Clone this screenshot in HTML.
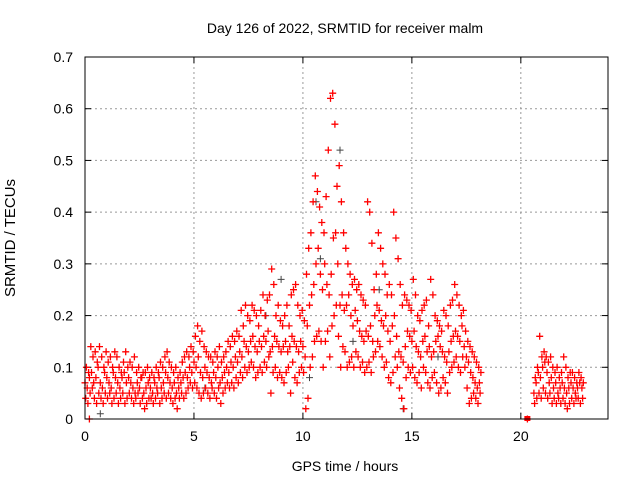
<!DOCTYPE html>
<html><head><meta charset="utf-8"><style>
body{margin:0;background:#fff}
svg{display:block;font-family:"Liberation Sans",sans-serif}
</style></head><body>
<svg id="chart" width="640" height="480">
<text x="345" y="33" text-anchor="middle" font-size="14">Day 126 of 2022, SRMTID for receiver malm</text>
<text x="345" y="471" text-anchor="middle" font-size="14">GPS time / hours</text>
<text x="0" y="0" transform="translate(15,238) rotate(-90)" text-anchor="middle" font-size="15">SRMTID / TECUs</text>
<g id="grid"></g>
<g id="ticks"></g>
<g id="marks"></g>
<rect x="85" y="57" width="523" height="362" fill="none" stroke="#000" stroke-width="1"/>
</svg>
<script>
const xTicks=[0,5,10,15,20];
const yTicks=[0,0.1,0.2,0.3,0.4,0.5,0.6,0.7];
const yTickLabels=["0","0.1","0.2","0.3","0.4","0.5","0.6","0.7"];
const dayStart=0, dayStep=0.1;
const dayMid=[.07,.06,.08,.09,.07,.08,.10,.07,.06,.09,.08,.07,.06,.09,.08,.07,.06,.08,.09,.07,.08,.07,.06,.05,.07,.06,.08,.05,.06,.07,.06,.05,.07,.06,.08,.06,.07,.09,.08,.07,.06,.07,.05,.06,.07,.08,.09,.08,.10,.09,.11,.10,.12,.09,.08,.10,.09,.08,.07,.09,.08,.10,.07,.08,.09,.10,.09,.11,.10,.12,.11,.13,.12,.15,.14,.13,.15,.16,.14,.13,.15,.14,.16,.15,.17,.13,.14,.16,.15,.14,.13,.14,.15,.13,.14,.16,.15,.14,.13,.15,.14,.12,.18,.22,.24,.26,.30,.33,.28,.25,.30,.26,.24,.28,.35,.36,.30,.22,.24,.21,.22,.24,.20,.18,.21,.19,.17,.16,.15,.17,.16,.18,.15,.20,.22,.21,.19,.18,.20,.17,.15,.18,.20,.16,.13,.12,.11,.14,.17,.16,.15,.17,.14,.13,.12,.15,.16,.13,.14,.12,.13,.15,.16,.14,.13,.12,.11,.13,.15,.16,.17,.16,.15,.18,.14,.12,.11,.09,.08,.07,.06,.07];
const dayLow=[.04,.03,.05,.06,.04,.03,.05,.04,.03,.05,.04,.05,.03,.04,.05,.03,.04,.05,.03,.04,.05,.04,.03,.04,.05,.03,.04,.02,.03,.04,.04,.03,.04,.05,.03,.04,.05,.04,.05,.04,.03,.04,.02,.04,.05,.04,.05,.06,.07,.06,.07,.06,.05,.04,.05,.06,.05,.04,.06,.05,.04,.06,.03,.05,.06,.07,.06,.07,.06,.08,.07,.09,.08,.10,.09,.10,.11,.10,.08,.09,.10,.09,.11,.10,.12,.05,.09,.10,.08,.09,.08,.07,.09,.10,.05,.11,.08,.07,.09,.10,.09,.02,.04,.10,.12,.15,.16,.17,.15,.10,.15,.17,.12,.18,.20,.22,.16,.10,.14,.13,.10,.11,.12,.10,.13,.12,.10,.11,.09,.10,.11,.09,.12,.13,.15,.14,.12,.10,.11,.08,.07,.09,.12,.10,.06,.04,.02,.08,.10,.09,.10,.08,.07,.09,.06,.10,.09,.07,.06,.08,.09,.07,.05,.06,.08,.07,.05,.09,.10,.11,.12,.10,.09,.12,.10,.06,.03,.04,.05,.04,.03,.05];
const dayHigh=[.10,.09,.14,.12,.13,.11,.14,.12,.10,.13,.11,.12,.10,.13,.12,.10,.09,.11,.13,.10,.11,.10,.12,.09,.10,.08,.09,.09,.10,.08,.09,.08,.10,.09,.11,.10,.12,.13,.11,.10,.09,.10,.08,.09,.11,.12,.13,.12,.14,.13,.16,.18,.15,.17,.14,.13,.12,.12,.11,.13,.12,.14,.11,.12,.13,.15,.14,.16,.15,.17,.16,.21,.18,.22,.20,.19,.22,.21,.20,.18,.21,.24,.20,.23,.24,.29,.26,.20,.22,.19,.18,.20,.22,.18,.24,.25,.26,.22,.20,.21,.19,.28,.33,.36,.42,.47,.44,.41,.38,.36,.43,.52,.62,.63,.57,.45,.49,.42,.36,.33,.30,.28,.26,.27,.25,.26,.24,.23,.22,.42,.40,.34,.25,.28,.36,.33,.30,.28,.24,.26,.24,.40,.35,.31,.26,.22,.24,.23,.22,.21,.27,.24,.20,.19,.21,.22,.23,.18,.27,.24,.20,.19,.18,.17,.21,.20,.18,.22,.23,.26,.24,.22,.20,.21,.17,.15,.14,.13,.12,.11,.10,.09];
const lateStart=20.6;
const lateMid=[.05,.07,.09,.08,.10,.11,.09,.07,.08,.06,.07,.05,.06,.07,.06,.05,.06,.07,.06,.05,.06,.07,.06];
const lateLow=[.03,.04,.05,.04,.06,.05,.04,.05,.03,.04,.03,.04,.03,.04,.03,.02,.03,.04,.03,.04,.04,.03,.04];
const lateHigh=[.08,.10,.16,.12,.13,.12,.11,.12,.10,.09,.10,.08,.09,.12,.10,.08,.09,.09,.08,.07,.09,.08,.07];
const grayTimes=[10.6,10.8,9.0,11.7,5.5,0.7,14.6,13.5,8.3,12.3,16.2,10.3];
const grayValues=[0.42,0.31,0.27,0.52,0.06,0.01,0.02,0.25,0.20,0.15,0.12,0.08];
const zeroTimes=[0.2,20.3];
const zeroValues=[0,0];

const X0=85,X1=608,Y0=419,Y1=57;
const sx=t=>X0+t/24*(X1-X0);
const sy=v=>Y0-v/0.7*(Y0-Y1);
const NS="http://www.w3.org/2000/svg";
const grid=document.getElementById('grid'),ticks=document.getElementById('ticks'),marks=document.getElementById('marks');
function mk(tag,attrs,parent){const e=document.createElementNS(NS,tag);for(const k in attrs)e.setAttribute(k,attrs[k]);parent.appendChild(e);return e;}
xTicks.forEach(t=>{
  const x=sx(t);
  if(t>0){const g=mk('line',{x1:x,x2:x,y1:Y1,y2:Y0,stroke:'#999','stroke-dasharray':'2,3','stroke-width':1},grid);
  
  }
  const l=mk('text',{x:x,y:Y0+22,'text-anchor':'middle','font-size':14},ticks);l.textContent=t;
  
  
  mk('line',{x1:x,x2:x,y1:Y0,y2:Y0-6,stroke:'#000'},ticks);
  mk('line',{x1:x,x2:x,y1:Y1,y2:Y1+6,stroke:'#000'},ticks);
});
yTicks.forEach((v,i)=>{
  const y=sy(v);
  if(v>0&&v<0.7){const g=mk('line',{x1:X0,x2:X1,y1:y,y2:y,stroke:'#999','stroke-dasharray':'2,3','stroke-width':1},grid);
  
  }
  const l=mk('text',{x:X0-12,y:y+5,'text-anchor':'end','font-size':14},ticks);l.textContent=yTickLabels[i];
  
  
  mk('line',{x1:X0,x2:X0+6,y1:y,y2:y,stroke:'#000'},ticks);
  mk('line',{x1:X1,x2:X1-6,y1:y,y2:y,stroke:'#000'},ticks);
});
let d='';
function plus(t,v){const x=sx(t),y=sy(v);d+=`M${(x-3.5).toFixed(1)} ${y.toFixed(1)}h7M${x.toFixed(1)} ${(y-3.5).toFixed(1)}v7`;}
let gd='';
grayTimes.forEach((t,i)=>{const x=sx(t),y=sy(grayValues[i]);gd+=`M${(x-3.5).toFixed(1)} ${y.toFixed(1)}h7M${x.toFixed(1)} ${(y-3.5).toFixed(1)}v7`;});
const gp=mk('path',{d:gd,stroke:'#444','stroke-width':1,fill:'none'},marks);


dayMid.forEach((v,i)=>plus(dayStart+i*dayStep,v));
dayLow.forEach((v,i)=>plus(dayStart+i*dayStep+0.033,v));
dayHigh.forEach((v,i)=>plus(dayStart+i*dayStep+0.066,v));
lateMid.forEach((v,i)=>plus(lateStart+i*dayStep,v));
lateLow.forEach((v,i)=>plus(lateStart+i*dayStep+0.033,v));
lateHigh.forEach((v,i)=>plus(lateStart+i*dayStep+0.066,v));
zeroTimes.forEach((t,i)=>plus(t,zeroValues[i]));
const rp=mk('path',{d:d,stroke:'#f00','stroke-width':1.3,fill:'none'},marks);


const sq=mk('rect',{x:sx(20.3)-3,y:sy(0)-3,width:6,height:5,fill:'#f00'},marks);


</script>
</body></html>
